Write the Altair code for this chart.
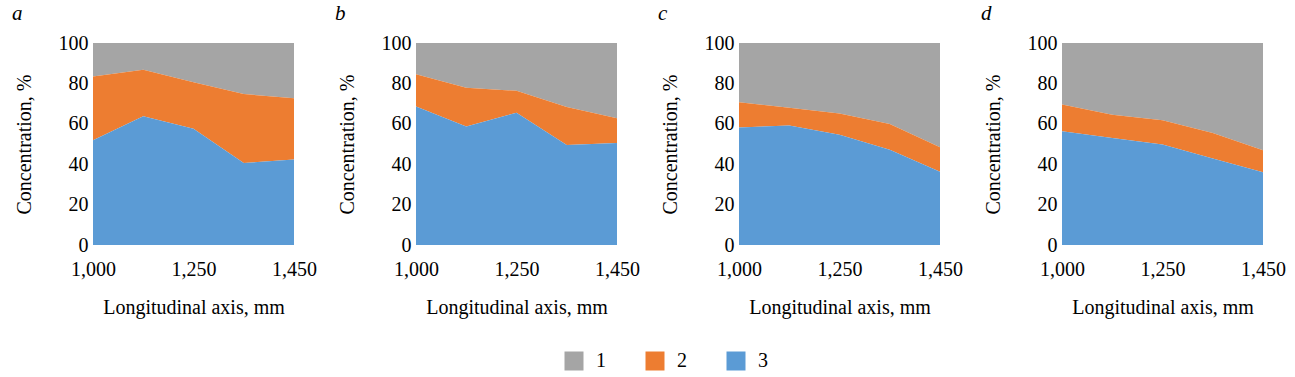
import altair as alt
import pandas as pd

positions = ["1,000", "1,125", "1,250", "1,350", "1,450"]
tick_labels = ["1,000", "1,250", "1,450"]
components = ["1", "2", "3"]
colors = ["#A5A5A5", "#ED7D31", "#5B9BD5"]
panels = ["a", "b", "c", "d"]

# concentration of each component (%)
a_comp1 = [16.6, 13.3, 19.4, 25.3, 27.3]
a_comp2 = [31.6, 23.0, 23.0, 34.1, 30.4]
a_comp3 = [51.8, 63.7, 57.6, 40.6, 42.3]

b_comp1 = [15.5, 22.2, 23.7, 31.7, 37.2]
b_comp2 = [15.9, 19.1, 10.8, 18.8, 12.3]
b_comp3 = [68.6, 58.7, 65.5, 49.5, 50.5]

c_comp1 = [29.3, 32.1, 34.9, 40.1, 51.6]
c_comp2 = [12.5, 8.7, 10.5, 12.7, 12.1]
c_comp3 = [58.2, 59.2, 54.6, 47.2, 36.3]

d_comp1 = [30.4, 35.5, 38.3, 44.6, 53.1]
d_comp2 = [13.3, 11.5, 12.0, 12.6, 10.9]
d_comp3 = [56.3, 53.0, 49.7, 42.8, 36.0]

series = {
    "a": [a_comp1, a_comp2, a_comp3],
    "b": [b_comp1, b_comp2, b_comp3],
    "c": [c_comp1, c_comp2, c_comp3],
    "d": [d_comp1, d_comp2, d_comp3],
}

rows = []
for p in panels:
    for ci, comp in enumerate(components):
        for pi, pos in enumerate(positions):
            rows.append({
                "panel": p,
                "position": pos,
                "component": comp,
                "value": series[p][ci][pi],
                "rank": len(components) - ci,  # component 3 at the bottom
            })
df = pd.DataFrame(rows)

FONT = "Liberation Serif, Times New Roman, serif"


def make_panel(letter):
    d = df[df["panel"] == letter]
    return (
        alt.Chart(
            d,
            title=alt.TitleParams(
                text=letter,
                anchor="start",
                frame="group",
                dx=-81,
                offset=9,
                font=FONT,
                fontSize=21,
                fontStyle="italic",
                fontWeight="normal",
                color="black",
            ),
        )
        .mark_area()
        .encode(
            x=alt.X(
                "position:O",
                sort=positions,
                scale=alt.Scale(type="point", padding=0),
                axis=alt.Axis(
                    values=tick_labels,
                    labelAngle=0,
                    domain=False,
                    ticks=False,
                    labelPadding=14,
                    titlePadding=18,
                ),
                title="Longitudinal axis, mm",
            ),
            y=alt.Y(
                "value:Q",
                stack="zero",
                scale=alt.Scale(domain=[0, 100], nice=False, zero=True),
                axis=alt.Axis(
                    values=[0, 20, 40, 60, 80, 100],
                    domain=False,
                    ticks=False,
                    grid=False,
                    labelPadding=5,
                    titlePadding=24,
                ),
                title="Concentration, %",
            ),
            color=alt.Color(
                "component:N",
                scale=alt.Scale(domain=components, range=colors),
                legend=alt.Legend(
                    title=None,
                    orient="none",
                    legendX=471,
                    legendY=308,
                    direction="horizontal",
                    symbolType="square",
                    symbolSize=361,
                    symbolStrokeWidth=0,
                    symbolOpacity=1,
                    labelFont=FONT,
                    labelFontSize=20,
                    labelOffset=12,
                    columnPadding=39,
                    labelColor="black",
                ),
            ),
            order=alt.Order("rank:Q"),
        )
        .properties(width=201, height=202)
    )


chart = (
    alt.hconcat(*[make_panel(p) for p in panels], spacing=18)
    .properties(
        padding={"left": 12, "top": 3, "right": 5, "bottom": 5},
        background="white",
    )
    .configure_view(stroke=None)
    .configure_axis(
        labelFont=FONT,
        labelFontSize=20,
        labelColor="black",
        titleFont=FONT,
        titleFontSize=20,
        titleFontWeight="normal",
        titleColor="black",
        grid=False,
    )
)

chart.save("out.html", embed_options={"renderer": "svg", "actions": False})
